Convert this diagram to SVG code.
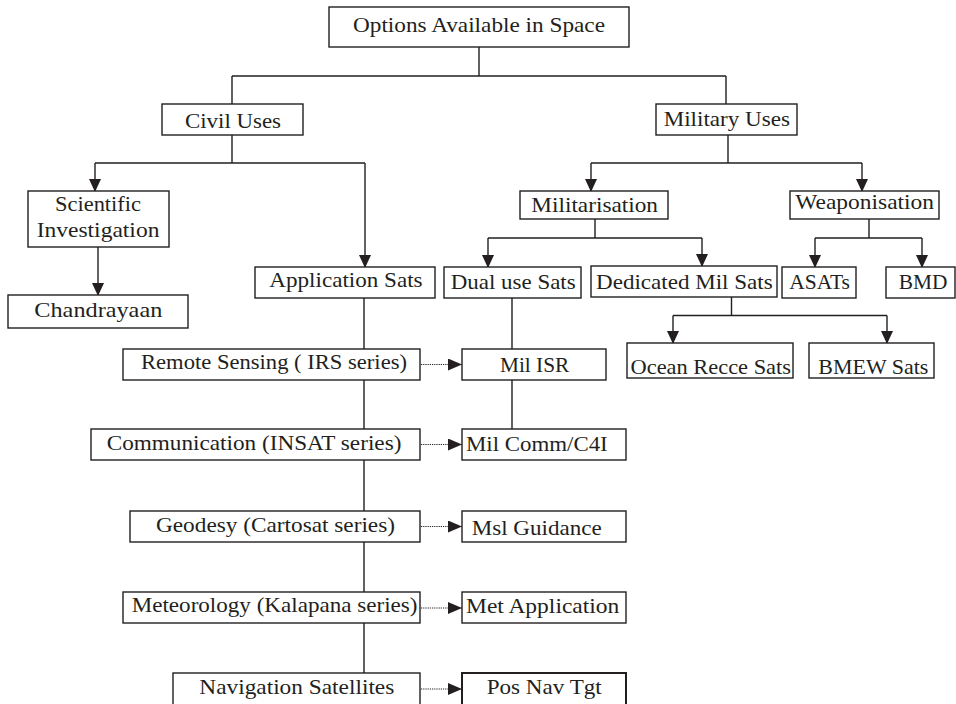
<svg xmlns="http://www.w3.org/2000/svg" width="956" height="704" viewBox="0 0 956 704">
<style>
.b{fill:#fff;stroke:#231f20;stroke-width:1.4}
.t{font-family:"Liberation Serif","Times New Roman",serif;font-size:22px;fill:#231f20}
.c{fill:none;stroke:#231f20;stroke-width:1.4}
.d{fill:none;stroke:#231f20;stroke-width:1;stroke-dasharray:1.2 1}
</style>
<defs>
<marker id="a" markerUnits="userSpaceOnUse" markerWidth="13" markerHeight="12" refX="12" refY="6" orient="auto"><path d="M0,0 L13,6 L0,12 z" fill="#231f20"/></marker>
<marker id="ad" markerUnits="userSpaceOnUse" markerWidth="14" markerHeight="12" refX="14" refY="6" orient="auto"><path d="M0,0 L14,6 L0,12 z" fill="#231f20"/></marker>
</defs>
<rect width="956" height="704" fill="#fff"/>
<g id="connectors">
<path class="c" d="M479,47 V76 M232,76 H726 M232,76 V104 M726,76 V104"/>
<path class="c" d="M232,135 V163 M95,163 H365"/>
<path class="c" d="M95,163 V191" marker-end="url(#a)"/>
<path class="c" d="M365,163 V267" marker-end="url(#a)"/>
<path class="c" d="M98,247 V295" marker-end="url(#a)"/>
<path class="c" d="M728,135 V163 M591,163 H862"/>
<path class="c" d="M591,163 V191" marker-end="url(#a)"/>
<path class="c" d="M862,163 V191" marker-end="url(#a)"/>
<path class="c" d="M595,219 V238 M488,238 H702"/>
<path class="c" d="M488,238 V267" marker-end="url(#a)"/>
<path class="c" d="M702,238 V266" marker-end="url(#a)"/>
<path class="c" d="M869,219 V238 M815,238 H922"/>
<path class="c" d="M815,238 V267" marker-end="url(#a)"/>
<path class="c" d="M922,238 V267" marker-end="url(#a)"/>
<path class="c" d="M731.5,297 V315.5 M673,315.5 H887"/>
<path class="c" d="M673,315.5 V343" marker-end="url(#a)"/>
<path class="c" d="M887,315.5 V343" marker-end="url(#a)"/>
<path class="c" d="M364,298 V349 M364,380 V429 M364,460 V511 M364,542 V592 M364,623 V673"/>
<path class="c" d="M512,298 V349 M512,380 V429"/>
<path class="d" d="M421,364.5 H462" marker-end="url(#ad)"/>
<path class="d" d="M421,444.5 H462" marker-end="url(#ad)"/>
<path class="d" d="M421,526.5 H462" marker-end="url(#ad)"/>
<path class="d" d="M421,608 H462" marker-end="url(#ad)"/>
<path class="d" d="M421,689 H462" marker-end="url(#ad)"/>
</g>
<g id="n-options"><rect class="b" x="329" y="7" width="300" height="40"/><text class="t" x="353" y="32" textLength="252" lengthAdjust="spacingAndGlyphs">Options Available in Space</text></g>
<g id="n-civil"><rect class="b" x="162" y="104" width="141" height="31"/><text class="t" x="185" y="127.5" textLength="96" lengthAdjust="spacingAndGlyphs">Civil Uses</text></g>
<g id="n-military"><rect class="b" x="656" y="104" width="141" height="31"/><text class="t" x="663.7" y="125.5" textLength="126.3" lengthAdjust="spacingAndGlyphs">Military Uses</text></g>
<g id="n-scientific"><rect class="b" x="28" y="191" width="141" height="56"/><text class="t" x="55" y="211" textLength="86" lengthAdjust="spacingAndGlyphs">Scientific</text><text class="t" x="36.7" y="236.5" textLength="122.7" lengthAdjust="spacingAndGlyphs">Investigation</text></g>
<g id="n-chandrayaan"><rect class="b" x="8" y="295" width="180" height="33"/><text class="t" x="34.3" y="316.5" textLength="128" lengthAdjust="spacingAndGlyphs">Chandrayaan</text></g>
<g id="n-application"><rect class="b" x="255" y="267" width="180" height="31"/><text class="t" x="269.3" y="287" textLength="153.3" lengthAdjust="spacingAndGlyphs">Application Sats</text></g>
<g id="n-dualuse"><rect class="b" x="444" y="267" width="137" height="31"/><text class="t" x="450.7" y="289" textLength="125" lengthAdjust="spacingAndGlyphs">Dual use Sats</text></g>
<g id="n-militarisation"><rect class="b" x="520" y="191" width="148" height="28"/><text class="t" x="531.3" y="212" textLength="126.7" lengthAdjust="spacingAndGlyphs">Militarisation</text></g>
<g id="n-weaponisation"><rect class="b" x="790" y="191" width="149" height="28"/><text class="t" x="795.3" y="209" textLength="138.7" lengthAdjust="spacingAndGlyphs">Weaponisation</text></g>
<g id="n-dedicated"><rect class="b" x="591" y="266" width="186" height="31"/><text class="t" x="596" y="289" textLength="176.7" lengthAdjust="spacingAndGlyphs">Dedicated Mil Sats</text></g>
<g id="n-asats"><rect class="b" x="782" y="267" width="74" height="31"/><text class="t" x="789.3" y="289" textLength="60.7" lengthAdjust="spacingAndGlyphs">ASATs</text></g>
<g id="n-bmd"><rect class="b" x="886" y="267" width="69" height="31"/><text class="t" x="898.7" y="289" textLength="48.7" lengthAdjust="spacingAndGlyphs">BMD</text></g>
<g id="n-ocean"><rect class="b" x="627" y="343" width="166" height="35"/><text class="t" x="630.5" y="374" textLength="160.5" lengthAdjust="spacingAndGlyphs">Ocean Recce Sats</text></g>
<g id="n-bmew"><rect class="b" x="809" y="343" width="125" height="35"/><text class="t" x="818.3" y="374" textLength="110" lengthAdjust="spacingAndGlyphs">BMEW Sats</text></g>
<g id="n-remote"><rect class="b" x="123" y="349" width="297" height="31"/><text class="t" x="141" y="368.5" textLength="266" lengthAdjust="spacingAndGlyphs">Remote Sensing ( IRS series)</text></g>
<g id="n-milisr"><rect class="b" x="462" y="349" width="144" height="31"/><text class="t" x="500" y="371.5" textLength="69.3" lengthAdjust="spacingAndGlyphs">Mil ISR</text></g>
<g id="n-comm"><rect class="b" x="91" y="429" width="329" height="31"/><text class="t" x="106.7" y="450" textLength="294.7" lengthAdjust="spacingAndGlyphs">Communication (INSAT series)</text></g>
<g id="n-milcomm"><rect class="b" x="462" y="429" width="164" height="31"/><text class="t" x="466" y="451" textLength="141.7" lengthAdjust="spacingAndGlyphs">Mil Comm/C4I</text></g>
<g id="n-geodesy"><rect class="b" x="130" y="511" width="290" height="31"/><text class="t" x="156" y="531.7" textLength="239" lengthAdjust="spacingAndGlyphs">Geodesy (Cartosat series)</text></g>
<g id="n-msl"><rect class="b" x="462" y="511" width="164" height="31"/><text class="t" x="471.7" y="535" textLength="130" lengthAdjust="spacingAndGlyphs">Msl Guidance</text></g>
<g id="n-met"><rect class="b" x="123" y="592" width="297" height="31"/><text class="t" x="131.7" y="612.3" textLength="285.8" lengthAdjust="spacingAndGlyphs">Meteorology (Kalapana series)</text></g>
<g id="n-metapp"><rect class="b" x="462" y="592" width="164" height="31"/><text class="t" x="466" y="613.3" textLength="153.3" lengthAdjust="spacingAndGlyphs">Met Application</text></g>
<g id="n-nav"><rect class="b" x="173" y="673" width="247" height="50"/><text class="t" x="199.3" y="694" textLength="195" lengthAdjust="spacingAndGlyphs">Navigation Satellites</text></g>
<g id="n-posnav"><rect class="b" x="462" y="673" width="164" height="50" style="stroke-width:2"/><text class="t" x="486.7" y="694.3" textLength="115" lengthAdjust="spacingAndGlyphs">Pos Nav Tgt</text></g>
</svg>
